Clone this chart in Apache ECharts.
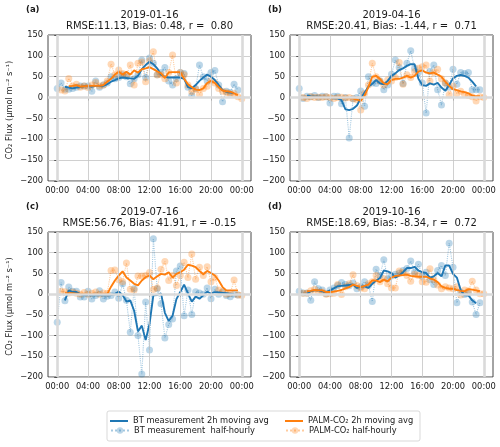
<!DOCTYPE html>
<html><head><meta charset="utf-8">
<script src="https://cdn.jsdelivr.net/npm/echarts@6/dist/echarts.min.js"></script>
<style>html,body{margin:0;padding:0;background:#fff}#c{width:500px;height:447px}</style>
</head><body><div id="c"></div>
<script>
const hours = [0,0.5,1,1.5,2,2.5,3,3.5,4,4.5,5,5.5,6,6.5,7,7.5,8,8.5,9,9.5,10,10.5,11,11.5,12,12.5,13,13.5,14,14.5,15,15.5,16,16.5,17,17.5,18,18.5,19,19.5,20,20.5,21,21.5,22,22.5,23,23.5,24];
const tickHours = [0,4,8,12,16,20,24];
const tickLabels = ['00:00','04:00','08:00','12:00','16:00','20:00','00:00'];

// Panel (a) 2019-01-16
const btHalfA = [22,35,20,20, 22,25,28,28, 28,15,40,25, 30,35,50,45, 48,55,50,33, 45,55,90,48, 95,82,55,60, 72,40,30,45, 60,58,25,5, 22,78,50,40, 60,65,30,-10, 15,12,32,18, null];
const btAvgA  = [null,null,26,24, 22,24,25,27, 28,26,28,28, 28,32,38,42, 46,48,47,46, 45,52,68,78, 86,80,70,55, 50,48,48,48, 48,45,25,22, 30,40,48,55, 50,42,30,18, 14,12,10,null, null];
const palmAvgA = [null,null,null,27, 28,30,26,27, 28,28,28,28, 30,38,45,55, 62,55,62,55, 65,60,68,70, 73,68,63,58, 47,60,61,61, 61,45,32,25, 19,18,22,35, 40,35,25,17, 15,14,10,6, null];
const palmHalfA = [null,18,16,46, 28,32,25,28, 24,30,36,28, 30,40,80,55, 66,58,54,78, 30,82,85,38, 88,110,54,55, 45,60,102,35, 60,55,30,14, 20,8,22,27, 40,35,22,15, 12,8,10,2, -3];

// Panel (b) 2019-04-16
const btHalfB = [22,-2,3,2, 5,0,3,2, -13,3,3,-15, 0,-97,-3,0, 16,-21,50,35, 34,40,19,30, 56,90,72,34, 82,112,70,60, 35,-37,63,78, 19,-18,35,25, 68,32,60,58, 60,19,19,19, null];
const btAvgB  = [null,null,5,3, 2,2,1,1, 0,-2,-2,-6, -28,-30,-27,-19, -2,12,26,33, 42,34,32,40, 52,58,66,70, 76,80,80,45, 30,28,34,31, 35,24,16,30, 46,52,54,52, 48,38,27,null, null];
const palmAvgB = [null,0,0,1, 0,0,0,0, 0,0,0,0, 0,-1,-2,-5, -8,5,25,50, 52,45,34,32, 42,45,45,48, 52,48,52,62, 65,60,58,60, 55,50,38,28, 20,18,15,13, 10,5,3,3, null];
const palmHalfB = [null,0,-2,2, 0,1,0,2, 0,-2,0,1, -1,0,-3,-5, -30,10,30,82, 50,40,30,42, 40,48,84,32, 55,48,62,70, 74,78,40,60, 68,45,35,7, 27,10,15,8, 5,2,-8,2, 0];

// Panel (c) 2019-07-16
const btHalfC = [-68,28,-16,17, 7,7,-7,-7, 7,-12,-3,8, -12,-5,-3,5, -10,25,-15,-92, 13,-100,-193,-19, -135,134,13,-23, -106,-73,-60,56, 68,-52,10,-49, 6,3,0,15, -11,12,0,6, -3,-6,0,-2, null];
const btAvgC  = [null,null,-15,9, 5,5,0,-3, -2,-3,-2,-3, -3,-3,-2,0, 6,-2,-18,-15, -40,-90,-76,-111, -72,-3,-2,2, -45,-65,-52,-12, 5,23,2,-18, -6,-11,-3,6, 1,5,4,3, 2,1,0,null, null];
const palmAvgC = [null,null,2,2, 2,1,1,0, 0,0,0,0, 0,0,18,33, 45,55,40,33, 25,21,33,41, 45,36,43,49, 47,53,40,49, 53,59,71,69, 65,56,48,56, 51,45,33,17, 9,9,9,9, null];
const palmHalfC = [null,7,6,3, 5,2,0,4, 0,2,5,0, 3,2,57,58, 35,30,75,12, 10,44,44,45, 52,11,15,60, 79,33,45,21, 45,77,40,97, 36,65,45,66, 30,40,10,5, 0,2,34,-2, -3];

// Panel (d) 2019-10-16
const btHalfD = [7,3,3,-15, 30,13,10,1, 10,15,21,28, 23,20,27,13, 18,30,21,-18, 60,45,83,37, 44,48,51,57, 62,80,53,72, 43,53,35,23, 57,69,45,123, 65,-21,5,-1, 2,-19,-49,-21, null];
const btAvgD  = [null,null,1,7, 9,9,7,5, 9,14,19,20, 21,22,23,15, 18,19,15,25, 33,39,57,55, 51,40,45,53, 63,63,66,57, 53,51,40,43, 51,43,69,69, 49,40,10,-3, -3,-15,-22,null, null];
const palmAvgD = [null,null,7,8, 10,9,9,5, 5,6,8,10, 14,17,23,20, 17,20,23,33, 33,29,35,31, 40,44,45,46, 47,44,43,42, 42,42,38,35, 29,19,15,13, 13,10,8,7, 12,11,9,7, null];
const palmHalfD = [null,2,2,8, 12,5,5,0, 1,2,23,-1, 18,25,47,21, 15,13,25,30, 45,30,38,25, 15,15,56,52, 45,31,48,45, 30,29,61,35, 22,13,18,15, 13,18,-2,10, 8,31,10,1, 1];

const tags = ['(a)','(b)','(c)','(d)'];
const dates = ['2019-01-16','2019-04-16','2019-07-16','2019-10-16'];
const stats = ['RMSE:11.13, Bias: 0.48, r =  0.80','RMSE:20.41, Bias: -1.44, r =  0.71','RMSE:56.76, Bias: 41.91, r = -0.15','RMSE:18.69, Bias: -8.34, r =  0.72'];
const seriesNames = ['BT measurement 2h moving avg','BT measurement  half-hourly','PALM-CO\u2082 2h moving avg','PALM-CO\u2082 half-hourly'];
const panelData = [
  [btAvgA, btHalfA, palmAvgA, palmHalfA],
  [btAvgB, btHalfB, palmAvgB, palmHalfB],
  [btAvgC, btHalfC, palmAvgC, palmHalfC],
  [btAvgD, btHalfD, palmAvgD, palmHalfD]
];

const BLUE = '#1f77b4', ORANGE = '#ff7f0e';
const FONT = '"DejaVu Sans", "Liberation Sans", sans-serif';
const TXT = '#1a1a1a';
const GRIDC = '#c4c4c4';
const boxes = [
  {left:48, top:35, width:203, height:146},
  {left:290, top:35, width:203, height:146},
  {left:48, top:232, width:203, height:145},
  {left:290, top:232, width:203, height:145}
];

const grids = [], xAxes = [], yAxes = [], series = [], graphics = [];
boxes.forEach((b, p) => {
  grids.push({left:b.left, top:b.top, width:b.width, height:b.height, show:true, borderColor:'#333', borderWidth:0.9, backgroundColor:'#fff'});
  xAxes.push({
    type:'value', gridIndex:p, min:-1.2, max:25.2,
    axisLine:{show:false},
    axisTick:{show:true, length:3, customValues:tickHours, lineStyle:{color:'#333', width:0.8}},
    axisLabel:{customValues:tickHours, margin:6, color:TXT, fontSize:8.3, fontFamily:FONT,
      formatter:(v)=>tickLabels[tickHours.indexOf(v)] || ''},
    splitLine:{show:false}
  });
  yAxes.push({
    type:'value', gridIndex:p, min:-200, max:150, interval:50,
    axisLine:{show:false},
    axisTick:{show:true, length:3, lineStyle:{color:'#333', width:0.8}},
    axisLabel:{margin:5, color:TXT, fontSize:8.3, fontFamily:FONT, formatter:(v)=>String(v).replace('-','\u2212')},
    splitLine:{show:true, lineStyle:{color:GRIDC, width:0.8}}
  });
  // vertical grid lines at the tick hours
  series.push({type:'line', xAxisIndex:p, yAxisIndex:p, data:[], silent:true, z:0,
    markLine:{silent:true, symbol:'none', animation:false, label:{show:false},
      lineStyle:{color:GRIDC, width:0.8, type:'solid'},
      data:tickHours.slice(1,-1).map(h=>({xAxis:h}))}});
  // reference lines at 00:00, 24:00 and zero
  series.push({type:'line', xAxisIndex:p, yAxisIndex:p, data:[], silent:true, z:1,
    markLine:{silent:true, symbol:'none', animation:false, label:{show:false},
      lineStyle:{color:'#dadada', width:2.6, type:'solid'},
      data:[{xAxis:0},{xAxis:24},{yAxis:0}]}});
  const d = panelData[p];
  const mk = (arr) => hours.map((t,i)=>[t, arr[i] === null ? '-' : arr[i]]);
  [[1, BLUE],[3, ORANGE]].forEach(([k, col]) => {
    series.push({type:'line', name:seriesNames[k], xAxisIndex:p, yAxisIndex:p, data:mk(d[k]),
      symbol:'circle', symbolSize:7, showSymbol:true, z:2,
      itemStyle:{color:col, opacity:0.3, borderWidth:0},
      lineStyle:{color:col, type:'dotted', width:1.1, opacity:0.4},
      emphasis:{disabled:true}});
  });
  [[0, BLUE],[2, ORANGE]].forEach(([k, col]) => {
    series.push({type:'line', name:seriesNames[k], xAxisIndex:p, yAxisIndex:p, data:mk(d[k]),
      symbol:'none', showSymbol:false, z:3,
      itemStyle:{color:col},
      lineStyle:{color:col, width:1.9},
      emphasis:{disabled:true}});
  });
  const cx = b.left + b.width/2;
  const tagX = p % 2 === 0 ? 26 : 268;
  graphics.push({type:'text', x:tagX, y:b.top-25, style:{text:tags[p], fill:TXT, font:'bold 8.5px ' + FONT, textAlign:'left', textVerticalAlign:'middle'}});
  graphics.push({type:'text', x:cx, y:b.top-20, style:{text:dates[p], fill:TXT, font:'10px ' + FONT, textAlign:'center', textVerticalAlign:'middle'}});
  graphics.push({type:'text', x:cx, y:b.top-8.5, style:{text:stats[p], fill:TXT, font:'10px ' + FONT, textAlign:'center', textVerticalAlign:'middle'}});
  if (p % 2 === 0) {
    graphics.push({type:'text', x:10, y:b.top + b.height/2 + 2, rotation:Math.PI/2,
      style:{text:'CO\u2082 Flux (\u03bcmol m\u207b\u00b2 s\u207b\u00b9)', fill:TXT, font:'8.3px ' + FONT, textAlign:'center', textVerticalAlign:'middle'}});
  }
});

graphics.unshift({type:'rect', shape:{x:107, y:411, width:313, height:30, r:2}, style:{fill:'#fff', stroke:'#cfcfcf', lineWidth:0.8}, z:-1});

const legendPos = [[110, 414],[110, 426.5],[285, 414],[285, 426.5]];
const legends = seriesNames.map((n, i) => {
  const isAvg = (i % 2 === 0);
  const lg = {
    data:[n], left:legendPos[i][0], top:legendPos[i][1], padding:0, itemWidth:18, itemHeight:8, itemGap:5,
    selectedMode:false, textStyle:{fontSize:8.3, fontFamily:FONT, color:TXT}
  };
  if (isAvg) { lg.icon = 'rect'; lg.itemHeight = 2; lg.top = legendPos[i][1] + 3; }
  return lg;
});

const chart = echarts.init(document.getElementById('c'), null, {renderer:'canvas'});
chart.setOption({
  animation:false,
  backgroundColor:'#fff',
  grid:grids, xAxis:xAxes, yAxis:yAxes, series:series,
  legend:legends,
  graphic:{elements:graphics}
});
</script></body></html>
